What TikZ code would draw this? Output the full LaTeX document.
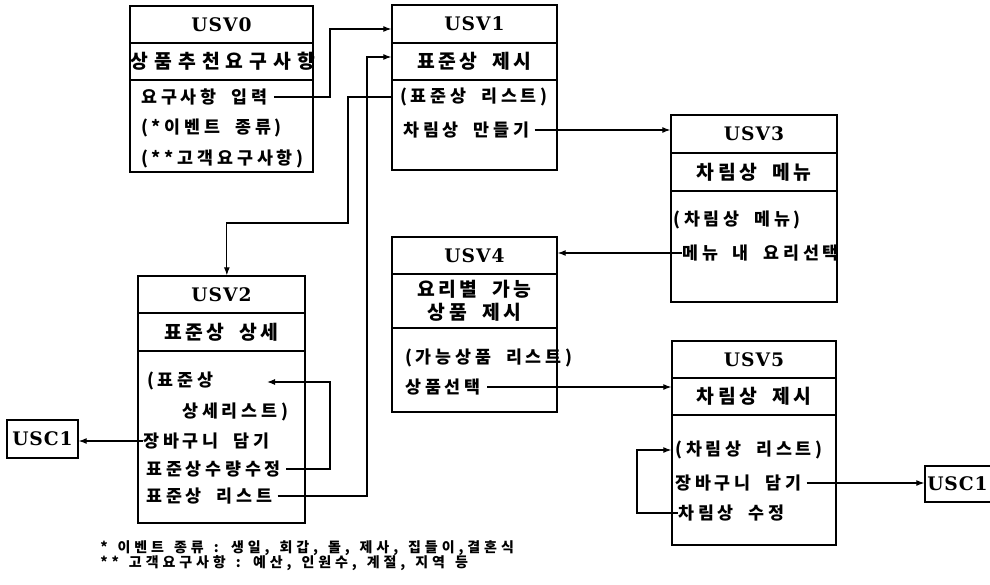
\documentclass[tikz,border=0pt]{standalone}
\usepackage{fontspec}
\usetikzlibrary{arrows.meta,fit}
\newfontfamily\kr[LetterSpace=22,WordSpace=1.9]{Noto Sans CJK KR}
\newfontfamily\krt[LetterSpace=18,WordSpace=1.9]{Noto Sans CJK KR}
\newfontfamily\krtw[LetterSpace=31]{Noto Sans CJK KR}
\newfontfamily\krfn[LetterSpace=28,WordSpace=1.4]{Noto Sans CJK KR}
\newfontfamily\hdfont[LetterSpace=5]{DejaVu Serif}
\tikzset{
  cell/.style={draw, line width=1pt, inner sep=0pt},
  hd/.style={font=\hdfont\bfseries\fontsize{14}{16}\selectfont, inner sep=0pt},
  ttl/.style={font=\krt\bfseries\fontsize{14.5}{19}\selectfont, inner sep=0pt, align=center},
  rowtxt/.style={font=\kr\bfseries\fontsize{13}{15}\selectfont, anchor=west, inner sep=0pt},
  fntxt/.style={font=\krfn\bfseries\fontsize{10.5}{12}\selectfont, anchor=west, inner sep=0pt},
  conn/.style={line width=0.9pt},
  arr/.style={conn, -{Latex[length=6pt,width=4.5pt]}}
}
\begin{document}
\begin{tikzpicture}[x=0.75pt,y=-0.75pt]
\useasboundingbox (0,0) rectangle (990,585);
\fill[white] (0,0) rectangle (990,585);
% USV0
\node[cell, fit={(130,6) (313,43)}] (u0h) {};
\node[cell, fit={(130,43) (313,80)}] (u0t) {};
\node[cell, fit={(130,80) (313,172)}] (u0b) {};
\node[hd] at (u0h) {USV0};
\node[ttl, font=\krtw\bfseries\fontsize{14.5}{19}\selectfont] at ([xshift=1pt]u0t) {상품추천요구사항};
\node[rowtxt] (r01) at (141,97) {요구사항 입력};
\node[rowtxt] (r02) at (141,128) {(*이벤트 종류)};
\node[rowtxt] (r03) at (141,159) {(**고객요구사항)};
% USV1
\node[cell, fit={(392,5) (557,43)}] (u1h) {};
\node[cell, fit={(392,43) (557,80)}] (u1t) {};
\node[cell, fit={(392,80) (557,170)}] (u1b) {};
\node[hd] at (u1h) {USV1};
\node[ttl] at (u1t) {표준상 제시};
\node[rowtxt] (r11) at (400,97) {(표준상 리스트)};
\node[rowtxt] (r12) at (403,130) {차림상 만들기};
% USV2
\node[cell, fit={(138,276) (305,313)}] (u2h) {};
\node[cell, fit={(138,313) (305,351)}] (u2t) {};
\node[cell, fit={(138,351) (305,523)}] (u2b) {};
\node[hd] at (u2h) {USV2};
\node[ttl] at (u2t) {표준상 상세};
\node[rowtxt] (r21) at (147,381) {(표준상};
\node[rowtxt] (r22) at (182,412) {상세리스트)};
\node[rowtxt] (r23) at (143,441) {장바구니 담기};
\node[rowtxt] (r24) at (146,469) {표준상수량수정};
\node[rowtxt] (r25) at (146,496) {표준상 리스트};
% USV3
\node[cell, fit={(671,115) (837,153)}] (u3h) {};
\node[cell, fit={(671,153) (837,191)}] (u3t) {};
\node[cell, fit={(671,191) (837,302)}] (u3b) {};
\node[hd] at (u3h) {USV3};
\node[ttl] at (u3t) {차림상 메뉴};
\node[rowtxt] (r31) at (673,220) {(차림상 메뉴)};
\node[rowtxt] (r32) at (682,253) {메뉴 내 요리선택};
% USV4
\node[cell, fit={(392,237) (557,274)}] (u4h) {};
\node[cell, fit={(392,274) (557,328)}] (u4t) {};
\node[cell, fit={(392,328) (557,412)}] (u4b) {};
\node[hd] at (u4h) {USV4};
\node[ttl, font=\krt\bfseries\fontsize{14.5}{17}\selectfont] at (u4t) {요리별 가능\\상품 제시};
\node[rowtxt] (r41) at (405,358) {(가능상품 리스트)};
\node[rowtxt] (r42) at (405,387) {상품선택};
% USV5
\node[cell, fit={(672,341) (836,378)}] (u5h) {};
\node[cell, fit={(672,378) (836,415)}] (u5t) {};
\node[cell, fit={(672,415) (836,545)}] (u5b) {};
\node[hd] at (u5h) {USV5};
\node[ttl] at (u5t) {차림상 제시};
\node[rowtxt] (r51) at (675,450) {(차림상 리스트)};
\node[rowtxt] (r52) at (675,483) {장바구니 담기};
\node[rowtxt] (r53) at (678,513) {차림상 수정};
% USC1 boxes
\node[cell, fit={(7,420) (78,458)}] (c1a) {};
\node[hd] at (c1a) {USC1};
\node[cell, fit={(925,466) (1000,502)}] (c1b) {};
\node[hd, anchor=west] at ([xshift=2pt]c1b.west) {USC1};
% bend points
\coordinate (b1) at (330,29);
\coordinate (b2) at (348,223);
\coordinate (b4) at (367,57);
\coordinate (b5) at (330,382);
\coordinate (a5) at (267,382);
\coordinate (b9) at (637,513);
% connectors
\draw[arr] ([xshift=5pt]r01.east) -| (b1) -- (b1 -| u1h.west);
\draw[arr] (u1b.west |- r11.west) -| (b2) -| ([xshift=4pt]u2h.north);
\draw[arr] ([xshift=4pt]r12.east) -- (u3h.west |- r12.east);
\draw[arr] ([xshift=4pt]r25.east) -| (b4) -- (b4 -| u1t.west);
\draw[arr] ([xshift=4pt]r24.east) -| (b5) -- (a5);
\draw[arr] (r23.west) -- (c1a.east |- r23.west);
\draw[arr] (r32.west) -- (u4h.east |- r32.west);
\draw[arr] ([xshift=5pt]r42.east) -- (u5t.west |- r42.east);
\draw[arr] (r53.west) -- (b9) |- (u5b.west |- r51.west);
\draw[arr] ([xshift=4pt]r52.east) -- (c1b.west |- r52.east);
% footnotes
\node[fntxt] (fn1) at (100,548) {* 이벤트 종류 : 생일, 회갑, 돌, 제사, 집들이,결혼식};
\node[fntxt] (fn2) at (100,563) {** 고객요구사항 : 예산, 인원수, 계절, 지역 등};
\end{tikzpicture}
\end{document}
